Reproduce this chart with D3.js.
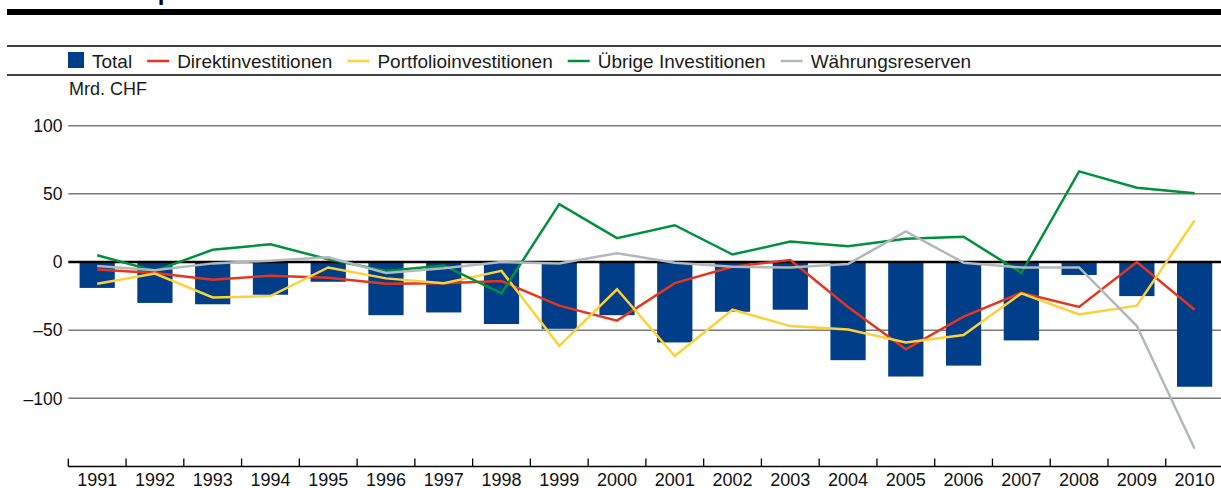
<!DOCTYPE html>
<html>
<head>
<meta charset="utf-8">
<script src="https://cdn.jsdelivr.net/npm/d3@7"></script>
<style>
  body { margin: 0; background: #fff; }
  svg { display: block; font-family: "Liberation Sans", Arial, sans-serif; }
</style>
</head>
<body>
<div id="chart"></div>
<script>
const years = ['1991','1992','1993','1994','1995','1996','1997','1998','1999','2000',
               '2001','2002','2003','2004','2005','2006','2007','2008','2009','2010'];
const total = [-19, -30, -31, -24, -14.5, -39, -37, -45.5, -49, -39,
               -59, -36.5, -35, -72, -84, -76, -57.5, -9.5, -25, -91.5];
const direkt = [-5.5, -8, -13, -10, -11.5, -16, -15.5, -14, -32, -43,
                -15.5, -3.5, 1.5, -33, -64, -40, -22.5, -33, 0, -35];
const portfolio = [-16, -8.5, -26, -25, -4, -12, -15.5, -6.5, -61.5, -20,
                   -69, -35, -47, -49.5, -59, -53.5, -23, -38.5, -32, 30.5];
const uebrige = [5, -6.5, 9, 13, 2, -6.5, -2.5, -23, 42.5, 17.5,
                 27, 5.5, 15, 11.5, 17, 18.5, -8, 66.5, 54.5, 50.5];
const reserven = [-3, -6, -1, 1, 3.5, -8, -4.5, 0, -1, 6.5,
                  -0.5, -3.5, -4, -1.5, 22.5, -0.5, -4, -4, -47, -137];
const yTicks = [100, 50, 0, -50, -100];

const series = [
  { name: 'Direktinvestitionen', values: direkt, color: '#e3361f' },
  { name: 'Portfolioinvestitionen', values: portfolio, color: '#fdd13a' },
  { name: 'Übrige Investitionen', values: uebrige, color: '#00903c' },
  { name: 'Währungsreserven', values: reserven, color: '#b2b8bd' }
];

const width = 1221, height = 488;
const left = 68.3, right = 1223.5;

const svg = d3.select('#chart').append('svg')
  .attr('width', width)
  .attr('height', height);

// title, mostly cut off at the top edge
svg.append('text')
  .attr('x', 7).attr('y', 0)
  .attr('font-size', 24).attr('font-weight', 'bold')
  .text('Saldo des Kapitalverkehrs');

svg.append('rect').attr('x', 7).attr('y', 9).attr('width', width).attr('height', 6).attr('fill', '#000');
svg.append('line').attr('x1', 7).attr('x2', width).attr('y1', 46).attr('y2', 46).attr('stroke', '#000').attr('stroke-width', 1.3);
svg.append('line').attr('x1', 7).attr('x2', width).attr('y1', 75).attr('y2', 75).attr('stroke', '#000').attr('stroke-width', 1.3);

const x = d3.scaleBand().domain(years).range([left, right]).paddingInner(0.39).paddingOuter(0.195);
const xb = d3.scaleBand().domain(years).range([left, right]);
const y = d3.scaleLinear().domain([-150, 100]).range([466.5, 125.7]);

// legend
const legend = svg.append('g').attr('font-size', 19).attr('fill', '#1a1a1a');
let lx = 68;
legend.append('rect').attr('x', lx).attr('y', 52).attr('width', 16).attr('height', 16).attr('fill', '#003e8a');
let t = legend.append('text').attr('x', lx + 24).attr('y', 67.5).text('Total');
lx = lx + 24 + t.node().getComputedTextLength() + 15;
series.forEach(s => {
  legend.append('line').attr('x1', lx).attr('x2', lx + 22).attr('y1', 61).attr('y2', 61)
    .attr('stroke', s.color).attr('stroke-width', 2.5);
  const tt = legend.append('text').attr('x', lx + 30).attr('y', 67.5).text(s.name);
  lx = lx + 30 + tt.node().getComputedTextLength() + 15;
});

svg.append('text').attr('x', 69).attr('y', 95).attr('font-size', 18).attr('fill', '#1a1a1a').text('Mrd. CHF');

// grid + y labels
const fmt = v => v < 0 ? '\u2013' + Math.abs(v) : String(v);
svg.append('g').selectAll('line.grid')
  .data(yTicks.filter(v => v !== 0))
  .join('line')
  .attr('x1', left).attr('x2', width)
  .attr('y1', d => y(d)).attr('y2', d => y(d))
  .attr('stroke', '#7a7a7a').attr('stroke-width', 1.5);
svg.append('g').selectAll('text')
  .data(yTicks)
  .join('text')
  .attr('x', 62.5).attr('y', d => y(d) + 6.3)
  .attr('text-anchor', 'end').attr('font-size', 17.5).attr('fill', '#111')
  .text(fmt);

// bars
svg.append('g').selectAll('rect')
  .data(years)
  .join('rect')
  .attr('x', d => x(d))
  .attr('width', x.bandwidth())
  .attr('y', (d, i) => Math.min(y(0), y(total[i])))
  .attr('height', (d, i) => Math.abs(y(total[i]) - y(0)))
  .attr('fill', '#003e8a');

// zero line
svg.append('line').attr('x1', left).attr('x2', width).attr('y1', y(0)).attr('y2', y(0))
  .attr('stroke', '#000').attr('stroke-width', 2.5);

// lines
const line = d3.line()
  .x((d, i) => xb(years[i]) + xb.bandwidth() / 2)
  .y(d => y(d));
svg.append('g').selectAll('path')
  .data(series)
  .join('path')
  .attr('d', d => line(d.values))
  .attr('fill', 'none')
  .attr('stroke', d => d.color)
  .attr('stroke-width', 2.5)
  .attr('stroke-linejoin', 'miter');

// x axis: baseline, boundary ticks pointing up, labels at band centres
const axisY = y(-150);
svg.append('line').attr('x1', left).attr('x2', width).attr('y1', axisY).attr('y2', axisY)
  .attr('stroke', '#000').attr('stroke-width', 1.3);
svg.append('g').selectAll('line')
  .data(years)
  .join('line')
  .attr('x1', d => xb(d)).attr('x2', d => xb(d))
  .attr('y1', axisY).attr('y2', axisY - 8)
  .attr('stroke', '#000').attr('stroke-width', 1.3);
svg.append('g')
  .attr('transform', `translate(0,${axisY})`)
  .call(d3.axisBottom(xb).tickSize(0).tickPadding(0))
  .call(g => g.select('.domain').remove())
  .call(g => g.selectAll('text')
    .attr('font-size', 18).attr('fill', '#111')
    .attr('font-family', '"Liberation Sans", Arial, sans-serif')
    .attr('dy', null).attr('y', 19.5));
</script>
</body>
</html>
